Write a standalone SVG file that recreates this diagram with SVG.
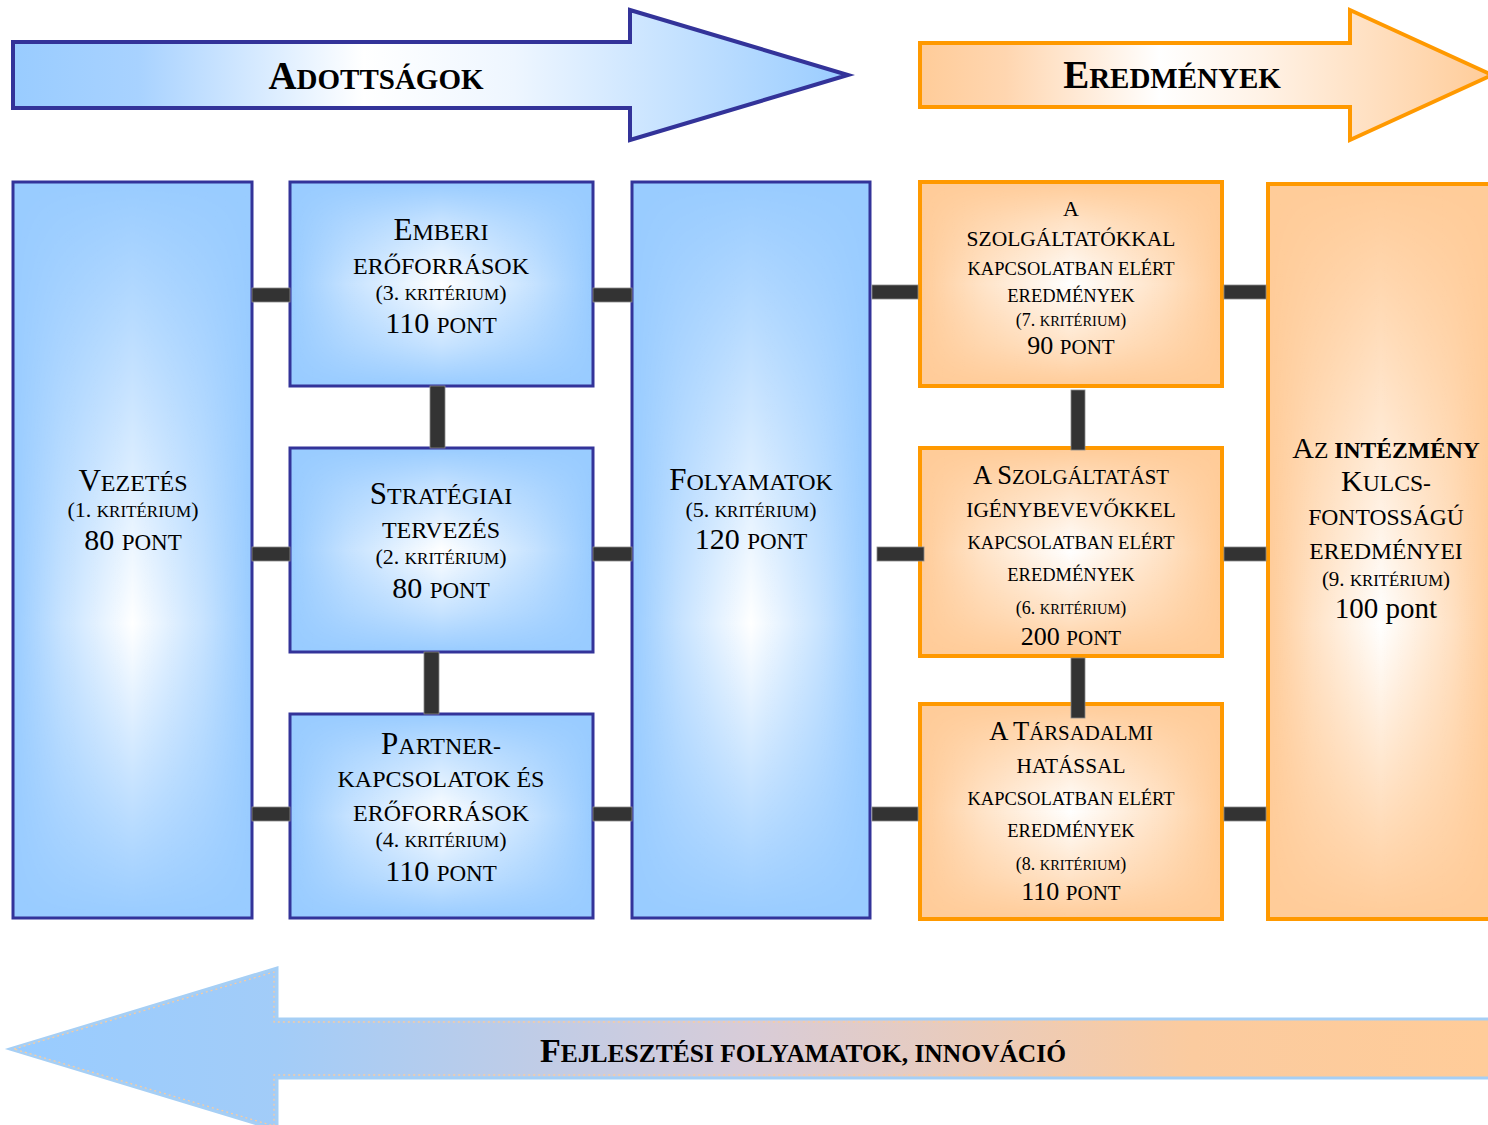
<svg xmlns="http://www.w3.org/2000/svg" width="1488" height="1125" viewBox="0 0 1488 1125">
<style>
.t{font-family:"Liberation Serif","Times New Roman",serif;fill:#000;text-anchor:middle}
.b{font-weight:bold}
.bb{stroke:#333399;stroke-width:3;fill:none}
.ob{stroke:#FF9900;stroke-width:4;fill:none}
.con{fill:#333333;stroke:#8a8a8a;stroke-width:0.8}
.ov{fill:url(#hw)}
</style>
<defs>
<linearGradient id="gBlueArrow" gradientUnits="userSpaceOnUse" x1="13" y1="0" x2="848" y2="0">
<stop offset="0" stop-color="#99CCFF"/><stop offset="0.15" stop-color="#A8D2FF"/><stop offset="0.42" stop-color="#FFFFFF"/><stop offset="0.6" stop-color="#EEF6FF"/><stop offset="1" stop-color="#99CCFF"/>
</linearGradient>
<linearGradient id="gOrangeArrow" gradientUnits="userSpaceOnUse" x1="920" y1="0" x2="1490" y2="0">
<stop offset="0" stop-color="#FFCC99"/><stop offset="0.15" stop-color="#FFD6B0"/><stop offset="0.42" stop-color="#FFFFFF"/><stop offset="0.6" stop-color="#FFF2E6"/><stop offset="1" stop-color="#FFCC99"/>
</linearGradient>
<linearGradient id="gBottom" gradientUnits="userSpaceOnUse" x1="10" y1="0" x2="1488" y2="0">
<stop offset="0" stop-color="#99CCFF"/><stop offset="0.18" stop-color="#A2CCF8"/><stop offset="0.5" stop-color="#D8CCD8"/><stop offset="0.8" stop-color="#FBCB9F"/><stop offset="1" stop-color="#FFCC99"/>
</linearGradient>
<linearGradient id="hw" x1="0" y1="0" x2="1" y2="0">
<stop offset="0" stop-color="#FFFFFF" stop-opacity="0"/><stop offset="0.2" stop-color="#FFFFFF" stop-opacity="0.45"/><stop offset="0.5" stop-color="#FFFFFF" stop-opacity="1"/><stop offset="0.8" stop-color="#FFFFFF" stop-opacity="0.45"/><stop offset="1" stop-color="#FFFFFF" stop-opacity="0"/>
</linearGradient>
<linearGradient id="vl" x1="0" y1="0" x2="0" y2="1">
<stop offset="0" stop-color="#000"/><stop offset="0.2" stop-color="#777"/><stop offset="0.5" stop-color="#FFF"/><stop offset="0.8" stop-color="#777"/><stop offset="1" stop-color="#000"/>
</linearGradient>
<linearGradient id="vlt" x1="0" y1="0" x2="0" y2="1">
<stop offset="0" stop-color="#000"/><stop offset="0.6" stop-color="#FFF"/><stop offset="1" stop-color="#000"/>
</linearGradient>
<mask id="mv" maskUnits="objectBoundingBox" maskContentUnits="objectBoundingBox" x="0" y="0" width="1" height="1"><rect width="1" height="1" fill="url(#vl)"/></mask>
<mask id="mvt" maskUnits="objectBoundingBox" maskContentUnits="objectBoundingBox" x="0" y="0" width="1" height="1"><rect width="1" height="1" fill="url(#vlt)"/></mask>
</defs>
<rect width="1488" height="1125" fill="#FFFFFF"/>

<g id="arrow-adottsagok">
<path d="M13,42 L630,42 L630,10 L848,75 L630,140 L630,108 L13,108 Z" fill="url(#gBlueArrow)" stroke="#333399" stroke-width="4" stroke-linejoin="miter"/>
<text class="t b" x="376" y="89" font-size="29"><tspan font-size="39">A</tspan>DOTTSÁGOK</text>
</g>
<g id="arrow-eredmenyek">
<path d="M920,43 L1350,43 L1350,10 L1492,75 L1350,140 L1350,107 L920,107 Z" fill="url(#gOrangeArrow)" stroke="#FF9900" stroke-width="4"/>
<text class="t b" x="1172" y="88" font-size="29"><tspan font-size="39">E</tspan>REDMÉNYEK</text>
</g>

<g id="node-vezetes">
<rect x="13" y="182" width="239" height="736" fill="#99CCFF"/>
<rect x="13" y="182" width="239" height="736" class="ov" mask="url(#mvt)"/>
<rect x="13" y="182" width="239" height="736" class="bb"/>
<text class="t" x="133" y="491" font-size="24"><tspan font-size="31">V</tspan>EZETÉS</text>
<text class="t" x="133" y="517" font-size="22">(1. <tspan font-size="17">KRITÉRIUM</tspan>)</text>
<text class="t" x="133" y="550" font-size="30">80 <tspan font-size="23">PONT</tspan></text>
</g>

<g id="node-emberi">
<rect x="290" y="182" width="303" height="204" fill="#99CCFF"/>
<rect x="290" y="182" width="303" height="204" class="ov" mask="url(#mv)"/>
<rect x="290" y="182" width="303" height="204" class="bb"/>
<text class="t" x="441" y="240" font-size="24"><tspan font-size="31">E</tspan>MBERI</text>
<text class="t" x="441" y="274" font-size="24">ERŐFORRÁSOK</text>
<text class="t" x="441" y="300" font-size="22">(3. <tspan font-size="17">KRITÉRIUM</tspan>)</text>
<text class="t" x="441" y="333" font-size="30">110 <tspan font-size="23">PONT</tspan></text>
</g>

<g id="node-strategiai">
<rect x="290" y="448" width="303" height="204" fill="#99CCFF"/>
<rect x="290" y="448" width="303" height="204" class="ov" mask="url(#mv)"/>
<rect x="290" y="448" width="303" height="204" class="bb"/>
<text class="t" x="441" y="504" font-size="24"><tspan font-size="31">S</tspan>TRATÉGIAI</text>
<text class="t" x="441" y="538" font-size="24">TERVEZÉS</text>
<text class="t" x="441" y="564" font-size="22">(2. <tspan font-size="17">KRITÉRIUM</tspan>)</text>
<text class="t" x="441" y="598" font-size="30">80 <tspan font-size="23">PONT</tspan></text>
</g>

<g id="node-partner">
<rect x="290" y="714" width="303" height="204" fill="#99CCFF"/>
<rect x="290" y="714" width="303" height="204" class="ov" mask="url(#mv)"/>
<rect x="290" y="714" width="303" height="204" class="bb"/>
<text class="t" x="441" y="754" font-size="24"><tspan font-size="31">P</tspan>ARTNER-</text>
<text class="t" x="441" y="787" font-size="24">KAPCSOLATOK ÉS</text>
<text class="t" x="441" y="821" font-size="24">ERŐFORRÁSOK</text>
<text class="t" x="441" y="847" font-size="22">(4. <tspan font-size="17">KRITÉRIUM</tspan>)</text>
<text class="t" x="441" y="881" font-size="30">110 <tspan font-size="23">PONT</tspan></text>
</g>

<g id="node-folyamatok">
<rect x="632" y="182" width="238" height="736" fill="#99CCFF"/>
<rect x="632" y="182" width="238" height="736" class="ov" mask="url(#mvt)"/>
<rect x="632" y="182" width="238" height="736" class="bb"/>
<text class="t" x="751" y="490" font-size="24"><tspan font-size="31">F</tspan>OLYAMATOK</text>
<text class="t" x="751" y="517" font-size="22">(5. <tspan font-size="17">KRITÉRIUM</tspan>)</text>
<text class="t" x="751" y="549" font-size="30">120 <tspan font-size="23">PONT</tspan></text>
</g>

<g id="node-szolgaltatokkal">
<rect x="920" y="182" width="302" height="204" fill="#FFCC99"/>
<rect x="920" y="182" width="302" height="204" class="ov" mask="url(#mv)"/>
<rect x="920" y="182" width="302" height="204" class="ob"/>
<text class="t" x="1071" y="216" font-size="22">A</text>
<text class="t" x="1071" y="246" font-size="21.5">SZOLGÁLTATÓKKAL</text>
<text class="t" x="1071" y="275" font-size="18.5">KAPCSOLATBAN ELÉRT</text>
<text class="t" x="1071" y="302" font-size="18.5">EREDMÉNYEK</text>
<text class="t" x="1071" y="326" font-size="18">(7. <tspan font-size="14.5">KRITÉRIUM</tspan>)</text>
<text class="t" x="1071" y="354" font-size="26">90 <tspan font-size="21">PONT</tspan></text>
</g>

<g id="node-igenybevevokkel">
<rect x="920" y="448" width="302" height="208" fill="#FFCC99"/>
<rect x="920" y="448" width="302" height="208" class="ov" mask="url(#mv)"/>
<rect x="920" y="448" width="302" height="208" class="ob"/>
<text class="t" x="1071" y="484" font-size="20.8"><tspan font-size="26.5">A S</tspan>ZOLGÁLTATÁST</text>
<text class="t" x="1071" y="517" font-size="21.3">IGÉNYBEVEVŐKKEL</text>
<text class="t" x="1071" y="549" font-size="18.5">KAPCSOLATBAN ELÉRT</text>
<text class="t" x="1071" y="581" font-size="18.5">EREDMÉNYEK</text>
<text class="t" x="1071" y="614" font-size="18">(6. <tspan font-size="14.5">KRITÉRIUM</tspan>)</text>
<text class="t" x="1071" y="645" font-size="26">200 <tspan font-size="21">PONT</tspan></text>
</g>

<g id="node-tarsadalmi">
<rect x="920" y="704" width="302" height="215" fill="#FFCC99"/>
<rect x="920" y="704" width="302" height="215" class="ov" mask="url(#mv)"/>
<rect x="920" y="704" width="302" height="215" class="ob"/>
<text class="t" x="1071" y="740" font-size="20.8"><tspan font-size="26.5">A T</tspan>ÁRSADALMI</text>
<text class="t" x="1071" y="773" font-size="21.3">HATÁSSAL</text>
<text class="t" x="1071" y="805" font-size="18.5">KAPCSOLATBAN ELÉRT</text>
<text class="t" x="1071" y="837" font-size="18.5">EREDMÉNYEK</text>
<text class="t" x="1071" y="870" font-size="18">(8. <tspan font-size="14.5">KRITÉRIUM</tspan>)</text>
<text class="t" x="1071" y="900" font-size="26">110 <tspan font-size="21">PONT</tspan></text>
</g>

<g id="node-kulcs">
<rect x="1268" y="184" width="226" height="735" fill="#FFCC99"/>
<rect x="1268" y="184" width="226" height="735" class="ov" mask="url(#mvt)"/>
<rect x="1268" y="184" width="226" height="735" class="ob"/>
<text class="t" x="1386" y="458" font-size="23.6"><tspan font-size="30">A</tspan>Z <tspan class="b">INTÉZMÉNY</tspan></text>
<text class="t" x="1386" y="491" font-size="23.6"><tspan font-size="30">K</tspan>ULCS-</text>
<text class="t" x="1386" y="525" font-size="23.6">FONTOSSÁGÚ</text>
<text class="t" x="1386" y="559" font-size="23.6">EREDMÉNYEI</text>
<text class="t" x="1386" y="586" font-size="21">(9. <tspan font-size="16.8">KRITÉRIUM</tspan>)</text>
<text class="t" x="1386" y="618" font-size="29">100 pont</text>
</g>

<g id="arrow-fejlesztesi">
<path d="M10,1049 L277,968 L277,1019 L1495,1019 L1495,1078 L277,1078 L277,1130 Z" fill="url(#gBottom)" stroke="#A6CFF5" stroke-width="3"/>
<path d="M14,1049 L274,972 L274,1022 L1495,1022 L1495,1075 L274,1075 L274,1126 Z" fill="none" stroke="#FFCC99" stroke-width="1.3" stroke-dasharray="2 3" opacity="0.9"/>
<text class="t b" x="803" y="1062" font-size="25.5"><tspan font-size="34">F</tspan>EJLESZTÉSI FOLYAMATOK, INNOVÁCIÓ</text>
</g>

<g id="connectors">
<rect class="con" x="252" y="288" width="38" height="14"/>
<rect class="con" x="252" y="547" width="38" height="14"/>
<rect class="con" x="252" y="807" width="38" height="14"/>
<rect class="con" x="593" y="288" width="39" height="14"/>
<rect class="con" x="593" y="547" width="39" height="14"/>
<rect class="con" x="593" y="807" width="39" height="14"/>
<rect class="con" x="430" y="386" width="15" height="62"/>
<rect class="con" x="424" y="652" width="15" height="62"/>
<rect class="con" x="872" y="285" width="46" height="14"/>
<rect class="con" x="877" y="547" width="47" height="14"/>
<rect class="con" x="872" y="807" width="46" height="14"/>
<rect class="con" x="1224" y="285" width="42" height="14"/>
<rect class="con" x="1224" y="547" width="42" height="14"/>
<rect class="con" x="1224" y="807" width="42" height="14"/>
<rect class="con" x="1071" y="390" width="14" height="60"/>
<rect class="con" x="1071" y="658" width="14" height="60"/>
</g>
</svg>
